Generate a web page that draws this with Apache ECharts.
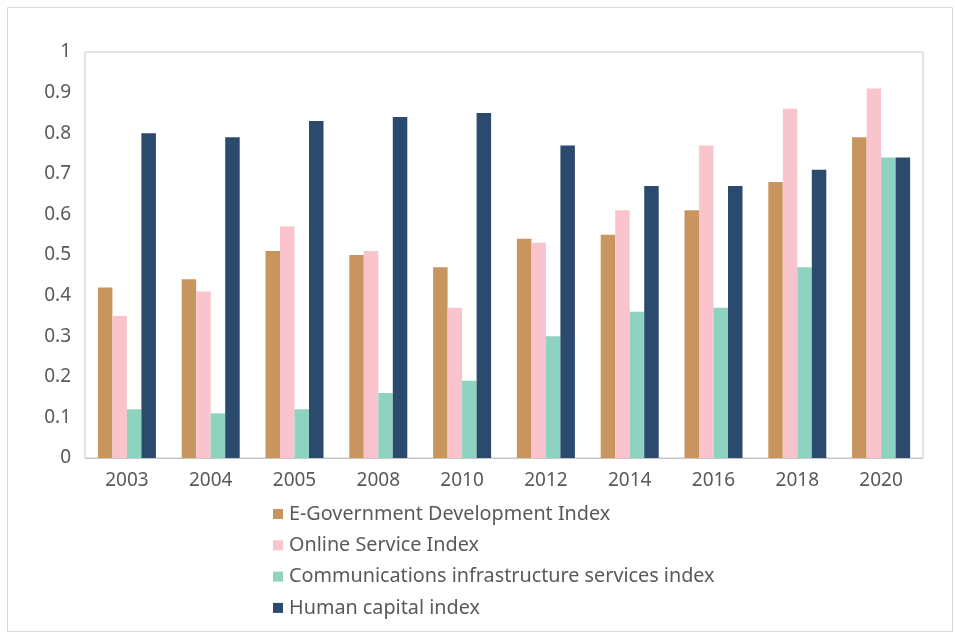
<!DOCTYPE html>
<html>
<head>
<meta charset="utf-8">
<script src="https://cdn.jsdelivr.net/npm/echarts@6/dist/echarts.min.js"></script>
<style>
  html, body { margin: 0; padding: 0; background: #ffffff; }
  #chart { width: 955px; height: 634px; }
</style>
</head>
<body>
<div id="chart"></div>
<script>
// Survey years on the category axis
const years = ['2003', '2004', '2005', '2008', '2010', '2012', '2014', '2016', '2018', '2020'];

// Index values per year
const egdi = [0.42, 0.44, 0.51, 0.50, 0.47, 0.54, 0.55, 0.61, 0.68, 0.79];
const osi  = [0.35, 0.41, 0.57, 0.51, 0.37, 0.53, 0.61, 0.77, 0.86, 0.91];
const tii  = [0.12, 0.11, 0.12, 0.16, 0.19, 0.30, 0.36, 0.37, 0.47, 0.74];
const hci  = [0.80, 0.79, 0.83, 0.84, 0.85, 0.77, 0.67, 0.67, 0.71, 0.74];

const seriesNames = [
  'E-Government Development Index',
  'Online Service Index',
  'Communications infrastructure services index',
  'Human capital index'
];
const seriesData = [egdi, osi, tii, hci];
const colors = ['#C9955F', '#F9C4CB', '#8DD3BF', '#2C4A6E'];

const textColor = '#595959';
const fontFamily = '"Noto Sans", "Open Sans", sans-serif';

const chart = echarts.init(document.getElementById('chart'), null, { renderer: 'canvas' });

chart.setOption({
  backgroundColor: '#ffffff',
  animation: false,
  color: colors,
  graphic: [{
    type: 'rect',
    left: 5, top: 5,
    shape: { width: 945, height: 624 },
    style: { fill: 'none', stroke: '#d9d9d9', lineWidth: 1 },
    silent: true
  }],
  grid: {
    left: 85, right: 32, top: 52, bottom: 176,
    show: true,
    borderColor: '#c6c6c6',
    borderWidth: 1,
    backgroundColor: 'transparent'
  },
  legend: {
    orient: 'vertical',
    left: 268,
    top: 499,
    itemWidth: 10,
    itemHeight: 10,
    itemGap: 11.3,
    icon: 'rect',
    textStyle: { color: textColor, fontSize: 19.8, lineHeight: 20, fontFamily: fontFamily, padding: [0, 0, 0, 1] },
    data: seriesNames
  },
  xAxis: {
    type: 'category',
    data: years,
    axisLine: { lineStyle: { color: '#c6c6c6' } },
    axisTick: { show: false },
    axisLabel: { color: textColor, fontSize: 19, fontFamily: fontFamily, margin: 13 }
  },
  yAxis: {
    type: 'value',
    min: 0, max: 1, interval: 0.1,
    axisLine: { show: false },
    axisTick: { show: false },
    splitLine: { show: false },
    axisLabel: {
      color: textColor, fontSize: 19, fontFamily: fontFamily, margin: 14,
      formatter: v => String(Math.round(v * 10) / 10)
    }
  },
  series: seriesNames.map((name, i) => ({
    name: name,
    type: 'bar',
    data: seriesData[i],
    barWidth: 14.5,
    barGap: '0%',
    itemStyle: { color: colors[i] }
  }))
});
</script>
</body>
</html>
